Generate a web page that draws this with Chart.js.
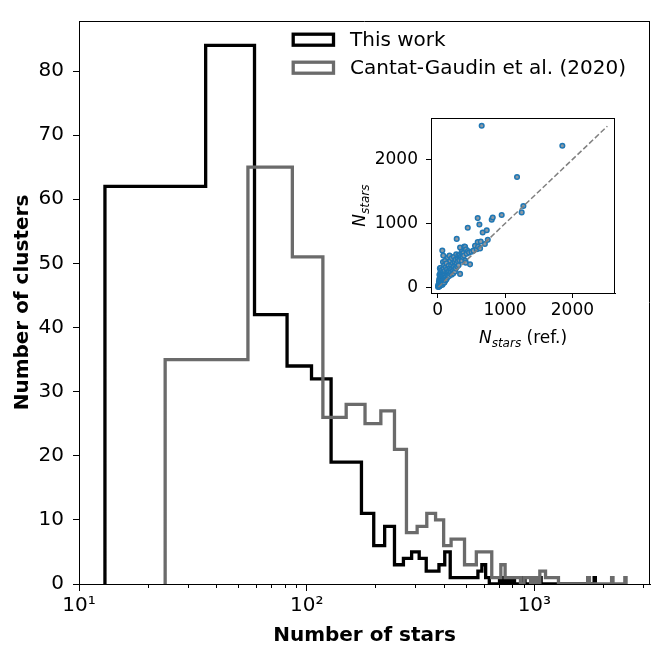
<!DOCTYPE html>
<html><head><meta charset="utf-8">
<script src="https://cdn.jsdelivr.net/npm/chart.js@4.4.1/dist/chart.umd.min.js"></script>
<style>
html,body{margin:0;padding:0;background:#fff;}
#wrap{position:relative;width:651px;height:645px;overflow:hidden;}
#main{position:absolute;left:0;top:0;}
#inset{position:absolute;left:345px;top:100px;}
</style></head><body>
<div id="wrap">
<canvas id="main" width="651" height="645"></canvas>
<canvas id="inset" width="280" height="260"></canvas>
</div>
<script>
// ---------------- data ----------------
const seriesNames = ['This work', 'Cantat-Gaudin et al. (2020)'];
// "This work": 80 equal-width bins
const thisWorkBinStart = 13;
const thisWorkBinWidth = 23;
const thisWorkCounts = [
  62,84,42,34,32,19,19,11,6,9,
  3,4,5,4,2,2,3,5,1,1,
  1,1,1,1,2,3,1,0,0,0,
  1,0,1,0,1,0,0,0,1,0,
  0,0,0,0,0,1,0,0,0,0,
  0,0,0,0,0,0,0,0,0,0,
  0,0,0,0,0,0,0,0,0,0,
  0,0,0,0,0,0,0,0,0,1
];
// Cantat-Gaudin et al. (2020): 80 equal-width bins
const cantatBinStart = 23.9;
const cantatBinWidth = 31.3;
const cantatCounts = [
  35,65,51,26,28,25,27,21,8,9,
  11,10,6,7,7,3,3,5,5,5,
  1,1,3,1,1,1,1,0,1,1,
  0,1,0,2,2,1,1,1,1,1,
  0,0,0,0,0,0,0,0,0,0,
  0,0,0,0,1,0,0,0,0,0,
  0,0,0,0,0,0,0,0,0,1,
  0,0,0,0,0,0,0,0,0,1
];
const xMajorTicks = [10, 100, 1000];
const xTickLabels = ['10\u00B9', '10\u00B2', '10\u00B3'];
const xMinorTicks = [20,30,40,50,60,70,80,90,200,300,400,500,600,700,800,900,2000,3000];
const yTicks = [0,10,20,30,40,50,60,70,80];

// inset: N_stars (ref.) vs N_stars (this work)
const insetRef = [
  5,8,10,12,15,15,18,20,20,22,
  25,25,28,30,30,32,35,35,38,40,
  40,42,45,45,48,50,50,52,55,55,
  58,60,60,62,65,65,68,70,70,72,
  75,78,80,80,82,85,85,88,90,92,
  95,95,98,100,100,105,110,110,115,120,
  120,125,130,130,135,140,145,150,150,155,
  160,165,170,175,175,180,185,190,195,200,
  205,210,215,220,225,230,235,240,245,250,
  255,260,265,270,275,280,282,290,295,300,
  305,310,320,325,332,332,340,350,355,360,
  365,370,380,390,395,406,410,416,420,430,
  446,450,465,480,500,530,554,580,594,594,
  600,619,629,639,653,668,700,728,743,802,
  817,950,1178,1247,1272,1851
];
const insetThis = [
  10,25,40,18,55,30,90,12,60,130,
  45,200,80,25,110,300,60,160,35,90,
  240,140,50,310,190,70,120,260,40,95,
  170,210,60,130,80,280,580,45,150,230,
  100,400,70,180,500,120,300,90,220,150,
  110,350,190,80,260,140,420,200,110,320,
  170,240,130,380,210,290,160,470,230,190,
  340,260,180,500,300,220,420,280,240,350,
  200,460,300,260,380,220,330,480,280,400,
  250,350,440,300,520,380,761,330,450,410,
  500,350,430,510,214,627,480,450,560,420,
  530,480,540,500,640,637,420,388,600,530,
  935,570,547,363,560,577,652,600,711,1085,
  640,985,612,721,2527,861,680,896,746,1060,
  1095,1134,1726,1174,1274,2214
];
const insetDiagonal = [10, 2520];
const insetTicks = [0, 1000, 2000];

// ---------------- helpers ----------------
const FONT = '"DejaVu Sans", "Liberation Sans", sans-serif';
Chart.defaults.font.family = FONT;
Chart.defaults.color = '#000';

function stepOutline(start, width, counts) {
  const pts = [{x: start, y: 0}];
  counts.forEach((c, i) => {
    pts.push({x: start + i * width, y: c});
    pts.push({x: start + (i + 1) * width, y: c});
  });
  pts.push({x: start + counts.length * width, y: 0});
  return pts;
}

const BLACK = '#000000';
const GRAY = '#6b6b6b';

const mainPlugin = {
  id: 'mainExtras',
  afterDraw(chart) {
    const {ctx, chartArea: a, scales: {x}} = chart;
    ctx.save();
    // top & right spines
    ctx.strokeStyle = '#000'; ctx.lineWidth = 1;
    ctx.beginPath();
    ctx.moveTo(a.left, Math.round(a.top) + 0.5); ctx.lineTo(a.right, Math.round(a.top) + 0.5);
    ctx.moveTo(Math.round(a.right) - 0.5, a.top); ctx.lineTo(Math.round(a.right) - 0.5, a.bottom);
    ctx.stroke();
    // minor ticks
    ctx.beginPath();
    xMinorTicks.forEach(v => {
      const px = Math.round(x.getPixelForValue(v)) + 0.5;
      ctx.moveTo(px, a.bottom); ctx.lineTo(px, a.bottom + 4);
    });
    ctx.stroke();
    // legend
    const colors = [BLACK, GRAY];
    ctx.lineWidth = 3.3;
    ctx.font = '20px ' + FONT;
    ctx.textBaseline = 'middle';
    ctx.fillStyle = '#000';
    seriesNames.forEach((name, i) => {
      const y0 = 34.2 + i * 28;
      ctx.strokeStyle = colors[i];
      ctx.strokeRect(293.2, y0, 40.3, 11);
      ctx.fillText(name, 350, y0 + 6.5);
    });
    ctx.restore();
  }
};

new Chart(document.getElementById('main'), {
  type: 'line',
  data: {
    datasets: [
      {label: seriesNames[0], data: stepOutline(thisWorkBinStart, thisWorkBinWidth, thisWorkCounts),
       borderColor: BLACK, borderWidth: 3.3, pointRadius: 0, fill: false, tension: 0,
       borderJoinStyle: 'miter', borderCapStyle: 'butt', order: 1},
      {label: seriesNames[1], data: stepOutline(cantatBinStart, cantatBinWidth, cantatCounts),
       borderColor: GRAY, borderWidth: 3.3, pointRadius: 0, fill: false, tension: 0,
       borderJoinStyle: 'miter', borderCapStyle: 'butt', order: 0}
    ]
  },
  options: {
    responsive: false, animation: false, devicePixelRatio: 1,
    layout: {padding: {top: 14, right: 1, left: 0, bottom: 0}},
    plugins: {legend: {display: false}, tooltip: {enabled: false}},
    scales: {
      x: {
        type: 'logarithmic', min: 10, max: 3220,
        afterBuildTicks: s => { s.ticks = xMajorTicks.map(v => ({value: v})); },
        ticks: {callback: v => { const i = xMajorTicks.indexOf(v); return i >= 0 ? xTickLabels[i] : ''; },
                font: {size: 20}, color: '#000', padding: 3, maxRotation: 0, autoSkip: false},
        grid: {display: true, drawOnChartArea: false, drawTicks: true, tickLength: 7, color: '#000', tickColor: '#000', lineWidth: 1},
        border: {display: true, color: '#000', width: 1},
        title: {display: true, text: 'Number of stars', font: {size: 20, weight: 'bold'}, color: '#000', padding: {top: 0, bottom: -3}},
        afterFit: s => { s.height = 61; }
      },
      y: {
        type: 'linear', min: 0, max: 87.8,
        afterBuildTicks: s => { s.ticks = yTicks.map(v => ({value: v})); },
        ticks: {font: {size: 20}, color: '#000', padding: 9},
        grid: {display: true, drawOnChartArea: false, drawTicks: true, tickLength: 6, color: '#000', tickColor: '#000', lineWidth: 1},
        border: {display: true, color: '#000', width: 1},
        title: {display: true, text: 'Number of clusters', font: {size: 20, weight: 'bold'}, color: '#000', padding: {top: 11, bottom: 0}},
        afterFit: s => { s.width = 79; }
      }
    }
  },
  plugins: [mainPlugin]
});

// ---------------- inset ----------------
function drawNstars(ctx, cx, cy, suffix, rotate) {
  ctx.save();
  ctx.translate(cx, cy);
  if (rotate) ctx.rotate(-Math.PI / 2);
  const fN = 'italic 17px ' + FONT, fS = 'italic 12px ' + FONT, fR = '17px ' + FONT;
  ctx.font = fN; const wN = ctx.measureText('N').width;
  ctx.font = fS; const wS = ctx.measureText('stars').width;
  ctx.font = fR; const wR = ctx.measureText(suffix).width;
  let x0 = -(wN + wS + wR) / 2;
  ctx.fillStyle = '#000'; ctx.textBaseline = 'alphabetic';
  ctx.font = fN; ctx.fillText('N', x0, 5); x0 += wN;
  ctx.font = fS; ctx.fillText('stars', x0, 9); x0 += wS;
  ctx.font = fR; ctx.fillText(suffix, x0, 5);
  ctx.restore();
}

const insetPlugin = {
  id: 'insetExtras',
  afterDraw(chart) {
    const {ctx, chartArea: a} = chart;
    ctx.save();
    ctx.strokeStyle = '#000'; ctx.lineWidth = 1;
    ctx.beginPath();
    ctx.moveTo(a.left, Math.round(a.top) + 0.5); ctx.lineTo(a.right, Math.round(a.top) + 0.5);
    ctx.moveTo(Math.round(a.right) - 0.5, a.top); ctx.lineTo(Math.round(a.right) - 0.5, a.bottom);
    ctx.stroke();
    ctx.restore();
    drawNstars(ctx, (a.left + a.right) / 2, 238, ' (ref.)', false);
    drawNstars(ctx, 15, (a.top + a.bottom) / 2, '', true);
  }
};

new Chart(document.getElementById('inset'), {
  type: 'scatter',
  data: {
    datasets: [
      {data: insetDiagonal.map(v => ({x: v, y: v})), showLine: true, borderColor: '#808080',
       borderWidth: 1.5, borderDash: [5.5, 2.5], pointRadius: 0, order: 0},
      {data: insetRef.map((v, i) => ({x: v, y: insetThis[i]})), pointRadius: 2.3, pointBorderWidth: 1.5,
       pointBackgroundColor: '#8f99a3', pointBorderColor: '#1f77b4', order: 1}
    ]
  },
  options: {
    responsive: false, animation: false, devicePixelRatio: 1,
    layout: {padding: {top: 10, right: 10, left: 0, bottom: 0}},
    plugins: {legend: {display: false}, tooltip: {enabled: false}},
    scales: {
      x: {
        type: 'linear', min: -100, max: 2633,
        afterBuildTicks: s => { s.ticks = insetTicks.map(v => ({value: v})); },
        ticks: {callback: v => String(v), font: {size: 17}, color: '#000', padding: 2, maxRotation: 0, autoSkip: false},
        grid: {display: true, drawOnChartArea: false, drawTicks: true, tickLength: 5, color: '#000', tickColor: '#000'},
        border: {display: true, color: '#000', width: 1},
        afterFit: s => { s.height = 67; }
      },
      y: {
        type: 'linear', min: -84, max: 2645,
        afterBuildTicks: s => { s.ticks = insetTicks.map(v => ({value: v})); },
        ticks: {callback: v => String(v), font: {size: 17}, color: '#000', padding: 8},
        grid: {display: true, drawOnChartArea: false, drawTicks: true, tickLength: 5, color: '#000', tickColor: '#000'},
        border: {display: true, color: '#000', width: 1},
        afterFit: s => { s.width = 86; }
      }
    }
  },
  plugins: [insetPlugin]
});
</script>
</body></html>
